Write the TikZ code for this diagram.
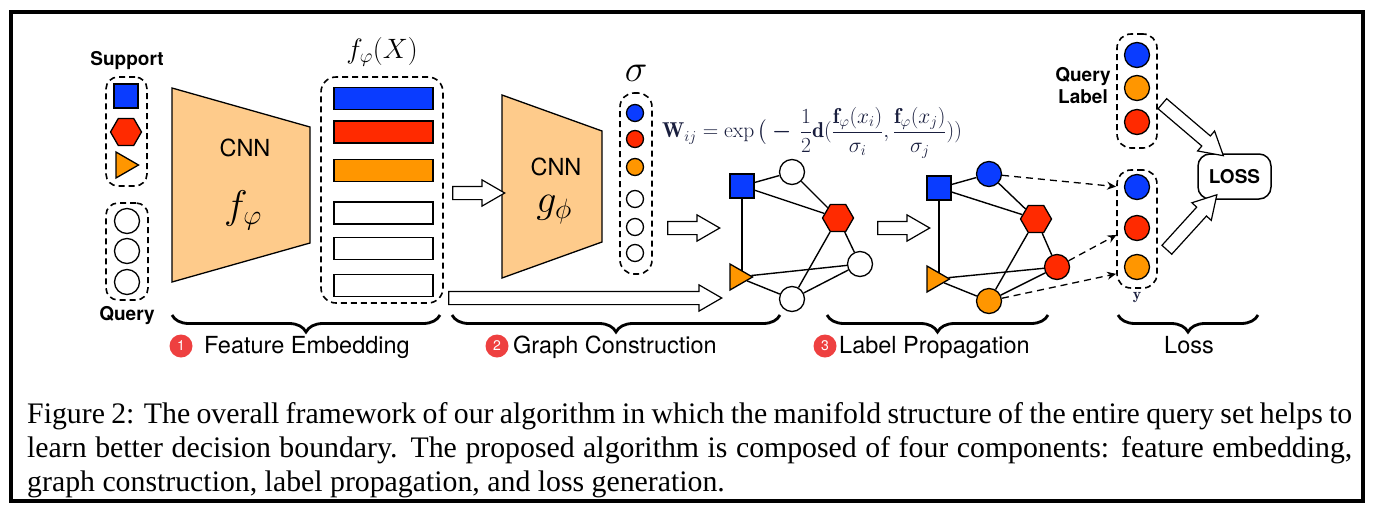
\RequirePackage{fix-cm}
\documentclass[tikz,border=0pt]{standalone}
\usepackage{amsmath}
\usepackage{fontspec}
\setsansfont{TeX Gyre Heros}
\newfontfamily\capfont{Liberation Serif}
\usetikzlibrary{shapes.geometric,shapes.arrows,decorations.pathreplacing,arrows.meta,calc,backgrounds}
\definecolor{cblue}{RGB}{10,60,255}
\definecolor{cred}{RGB}{255,42,0}
\definecolor{corange}{RGB}{255,150,0}
\definecolor{cnnfill}{RGB}{254,203,139}
\definecolor{badgered}{RGB}{238,64,64}
\definecolor{mathcol}{RGB}{25,30,62}
\newcommand{\blockarrow}[2]{\path let \p1=($(#2)-(#1)$), \n1={atan2(\y1,\x1)}, \n2={veclen(\x1,\y1)} in node[barrow, minimum height=\n2, rotate=\n1] at ($(#1)!0.5!(#2)$) {};}
\begin{document}
\begin{tikzpicture}[x=1pt,y=-1pt,
  dashbox/.style={draw, dash pattern=on 6pt off 4pt, line width=1.6pt, rounded corners=12pt, inner sep=0pt},
  sq/.style={rectangle, draw, line width=1.3pt, fill=cblue, minimum size=24pt, inner sep=0pt},
  hexa/.style={regular polygon, regular polygon sides=6, draw, line width=1.3pt, fill=cred, minimum size=31pt, inner sep=0pt},
  tri/.style={regular polygon, regular polygon sides=3, draw, line width=1.3pt, fill=corange, minimum size=30pt, inner sep=0pt, rotate=-90},
  dot/.style={circle, draw, line width=1.3pt, fill=white, minimum size=25pt, inner sep=0pt},
  sdot/.style={circle, draw, line width=1.3pt, fill=white, minimum size=17pt, inner sep=0pt},
  bar/.style={rectangle, draw, line width=1.3pt, fill=white, minimum width=99pt, minimum height=22pt, inner sep=0pt},
  cnnshape/.style={draw, line width=1.3pt, fill=cnnfill},
  gedge/.style={line width=1.4pt},
  darr/.style={line width=1.3pt, dash pattern=on 7pt off 5pt, -{Stealth[length=9pt,width=8pt,inset=3pt]}, shorten >=4pt},
  barrow/.style={single arrow, draw, line width=1.2pt, fill=white, inner xsep=0pt, inner ysep=6pt, single arrow head extend=6.5pt, single arrow tip angle=60},
  brace/.style={decorate, decoration={brace, amplitude=17pt, mirror}, line width=2.8pt},
  badge/.style={circle, fill=badgered, text=white, inner sep=0pt, minimum size=23pt, font=\sffamily\fontsize{14}{16}\selectfont},
  lbl/.style={font=\sffamily\fontsize{23.5}{28}\selectfont, inner sep=0pt},
  blbl/.style={font=\sffamily\bfseries\fontsize{19}{23}\selectfont, inner sep=0pt, align=center},
  mth/.style={inner sep=0pt, text=mathcol},
  captxt/.style={anchor=base west, inner sep=0pt, font=\capfont\fontsize{29.8}{34}\selectfont}
]
\useasboundingbox (0,0) rectangle (1375,509);
% outer frame
\draw[line width=3.5pt] (11,12) rectangle (1363,501);

% ---------- support / query ----------
\node[blbl] (suplbl) at (127,61) {Support};
\node[dashbox, minimum width=41pt, minimum height=109pt] (supbox) at (126.5,131.5) {};
\node[sq] (s1) at (126,96) {};
\node[hexa] (s2) at (126,132) {};
\node[tri] (s3) at (123.5,165) {};
\node[dashbox, minimum width=42pt, minimum height=97pt] (qbox) at (127,251.5) {};
\node[dot] (q1) at (127,221) {};
\node[dot] (q2) at (127,251) {};
\node[dot] (q3) at (127,282) {};
\node[blbl, anchor=base] (qlbl) at (127,320) {Query};

% ---------- CNN f ----------
\draw[cnnshape] (172,88) -- (310,127) -- (310,243) -- (172,282) -- cycle;
\node[lbl] (cnn1) at (245,148) {CNN};
\node[inner sep=0pt] (f1) at (243,210) {\fontsize{40}{44}\selectfont$f_{\varphi}$};

% ---------- feature bars ----------
\node[inner sep=0pt] (fX) at (382,52) {\fontsize{28}{30}\selectfont$f_{\varphi}(X)$};
\node[dashbox, rounded corners=15pt, minimum width=122pt, minimum height=226pt] (fbox) at (382,190) {};
\node[bar, fill=cblue] (b1) at (383.5,98.5) {};
\node[bar, fill=cred] (b2) at (383.5,132) {};
\node[bar, fill=corange] (b3) at (383.5,170.5) {};
\node[bar] (b4) at (383.5,213) {};
\node[bar] (b5) at (383.5,248.5) {};
\node[bar] (b6) at (383.5,285.5) {};

% ---------- CNN g ----------
\draw[cnnshape] (502,95) -- (602,131) -- (602,242) -- (502,278) -- cycle;
\node[lbl] (cnn2) at (556,167) {CNN};
\node[inner sep=0pt] (g1) at (554,210) {\fontsize{40}{44}\selectfont$g_{\phi}$};

% ---------- sigma ----------
\node[inner sep=0pt] (siglbl) at (636,73) {\fontsize{38}{40}\selectfont$\sigma$};
\node[dashbox, rounded corners=14pt, minimum width=32pt, minimum height=181pt] (sigbox) at (636,183.5) {};
\node[sdot, fill=cblue] (t1) at (635,113) {};
\node[sdot, fill=cred] (t2) at (635,139) {};
\node[sdot, fill=corange] (t3) at (635,167) {};
\node[sdot] (t4) at (635,199) {};
\node[sdot] (t5) at (635,227) {};
\node[sdot] (t6) at (635,253) {};

% formula
\node[mth] (formula) at (812,133) {\fontsize{21.5}{24}\selectfont$\mathbf{W}_{ij}=\exp\big(\boldsymbol{-}\,\dfrac{1}{2}\mathbf{d}(\dfrac{\mathbf{f}_{\varphi}(x_i)}{\sigma_i},\dfrac{\mathbf{f}_{\varphi}(x_j)}{\sigma_j}))$};

% ---------- graph 1 ----------
\node[sq] (g1sq) at (742,186) {};
\node[dot] (g1top) at (792,172) {};
\node[hexa] (g1hex) at (838,218) {};
\node[dot] (g1rt) at (860,264) {};
\node[tri] (g1tri) at (737.5,277) {};
\node[dot] (g1bot) at (792,299) {};
\begin{scope}[on background layer]
\draw[gedge] (g1sq.south) -- (g1sq.south |- g1tri.center);
\end{scope}
\draw[gedge] (g1sq) -- (g1top);
\draw[gedge] (g1sq) -- (g1hex);
\draw[gedge] (g1top) -- (g1hex);
\draw[gedge] (g1hex) -- (g1rt);
\draw[gedge] (g1hex) -- (g1bot);
\draw[gedge] (g1tri) -- (g1rt);
\draw[gedge] (g1tri) -- (g1bot);
\draw[gedge] (g1bot) -- (g1rt);

% ---------- graph 2 ----------
\node[sq] (g2sq) at (939,188) {};
\node[dot, fill=cblue] (g2top) at (989,174) {};
\node[hexa] (g2hex) at (1036,219) {};
\node[dot, fill=cred] (g2rt) at (1057,267) {};
\node[tri] (g2tri) at (934.5,279) {};
\node[dot, fill=corange] (g2bot) at (989,301) {};
\begin{scope}[on background layer]
\draw[gedge] (g2sq.south) -- (g2sq.south |- g2tri.center);
\end{scope}
\draw[gedge] (g2sq) -- (g2top);
\draw[gedge] (g2sq) -- (g2hex);
\draw[gedge] (g2top) -- (g2hex);
\draw[gedge] (g2hex) -- (g2rt);
\draw[gedge] (g2hex) -- (g2bot);
\draw[gedge] (g2tri) -- (g2rt);
\draw[gedge] (g2tri) -- (g2bot);
\draw[gedge] (g2bot) -- (g2rt);

% ---------- y and query label ----------
\node[dashbox, rounded corners=14pt, minimum width=40pt, minimum height=118pt] (ybox) at (1137,229) {};
\node[dot, fill=cblue] (y1) at (1137,187) {};
\node[dot, fill=cred] (y2) at (1137,228) {};
\node[dot, fill=corange] (y3) at (1137,267) {};
\node[mth] (ylbl) at (1137,298) {\fontsize{16}{18}\selectfont$\mathbf{y}$};

\node[dashbox, rounded corners=14pt, minimum width=40pt, minimum height=114pt] (qlbox) at (1137,91) {};
\node[dot, fill=cblue] (l1) at (1137,55) {};
\node[dot, fill=corange] (l2) at (1137,88) {};
\node[dot, fill=cred] (l3) at (1137,122) {};
\node[blbl] (qltxt) at (1083,86) {Query\\[-1pt]Label};

\node[draw, line width=1.5pt, rounded corners=12pt, minimum width=73pt, minimum height=45pt, font=\sffamily\bfseries\fontsize{19}{23}\selectfont] (loss) at (1234.5,176.5) {LOSS};

% dashed arrows
\coordinate (y1in) at ($(y1)+(-17,0)$);
\coordinate (y2in) at ($(y2)+(-17,5)$);
\coordinate (y3in) at ($(y3)+(-17,6)$);
\draw[darr] (g2top) -- (y1in);
\draw[darr] (g2rt) -- (y2in);
\draw[darr] (g2bot) -- (y3in);

% ---------- block arrows ----------
\coordinate (a1s) at (447,193); \coordinate (a1e) at (499,193);
\coordinate (a2s) at (662,228); \coordinate (a2e) at (714,228);
\coordinate (a3s) at (443,298); \coordinate (a3e) at (716,298);
\coordinate (a4s) at (872,228); \coordinate (a4e) at (924,228);
\coordinate (a5s) at (1158,100); \coordinate (a5e) at (1219,152);
\coordinate (a6s) at (1163,254); \coordinate (a6e) at (1213,199);
\blockarrow{a1s}{a1e}
\blockarrow{a2s}{a2e}
\blockarrow{a3s}{a3e}
\blockarrow{a4s}{a4e}
\blockarrow{a5s}{a5e}
\blockarrow{a6s}{a6e}

% ---------- braces ----------
\draw[brace] (172,315) -- (440,315);
\draw[brace] (452,315) -- (780,315);
\draw[brace] (827,315) -- (1048,315);
\draw[brace] (1118,315) -- (1258,315);

\node[badge] (n1) at (181,346) {1};
\node[lbl, anchor=base west] (t1lbl) at (204,353) {Feature Embedding};
\node[badge] (n2) at (497,346) {2};
\node[lbl, anchor=base west] (t2lbl) at (513,353) {Graph Construction};
\node[badge] (n3) at (825,346) {3};
\node[lbl, anchor=base west] (t3lbl) at (839,353) {Label Propagation};
\node[lbl, anchor=base] (t4lbl) at (1189,353) {Loss};

% ---------- caption ----------
\node[captxt] (cap1) at (27,423) {\makebox[1325pt][s]{Figure 2: The overall framework of our algorithm in which the manifold structure of the entire query set helps to}};
\node[captxt] (cap2) at (27,457) {\makebox[1325pt][s]{learn better decision boundary. The proposed algorithm is composed of four components: feature embedding,}};
\node[captxt] (cap3) at (27,491) {graph construction, label propagation, and loss generation.};
\end{tikzpicture}
\end{document}
